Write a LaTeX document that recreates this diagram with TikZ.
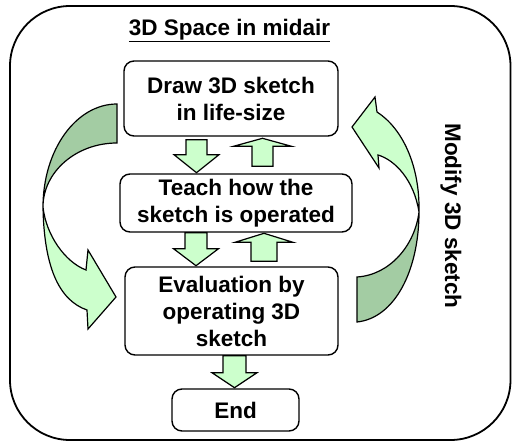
\documentclass[tikz,border=0pt]{standalone}
\usepackage{fontspec}
\setmainfont{Liberation Sans}
\usepackage{tikz}
\usetikzlibrary{calc}
\definecolor{frontgreen}{HTML}{CCFFCC}
\definecolor{backgreen}{HTML}{A3CCA3}
\tikzset{
  stepbox/.style={draw, rounded corners=10pt, line width=1.4pt, align=center,
    inner sep=0pt, font=\fontsize{22.5}{27}\selectfont\bfseries},
  blk/.style={draw, fill=frontgreen, line width=1.2pt, line join=miter},
  pics/blkarrow/.style args={#1/#2/#3/#4}{code={
    \draw[blk] (-#1,0) -- (#1,0) -- (#1,#3) -- (#2,#3) -- (0,#4) -- (-#2,#3) -- (-#1,#3) -- cycle;
  }}
}

\begin{document}
\begin{tikzpicture}[x=1pt,y=-1pt]
            \useasboundingbox (0,0) rectangle (512,442);
            \draw[line width=1.8pt, rounded corners=60pt] (10,6) rectangle (510.5,440);

            \node[anchor=base, font=\fontsize{22.5}{27}\selectfont\bfseries] (title) at (229.5,35) {\underline{3D Space in midair}};
            \node[rotate=-90, font=\fontsize{22.5}{27}\selectfont\bfseries] (modify) at (451,216) {Modify 3D sketch};

            \node[stepbox, minimum width=214pt, minimum height=75pt] (sketch) at (231,98.5) {Draw 3D sketch\\in life-size};
            \node[stepbox, minimum width=232pt, minimum height=58pt] (teach) at (236,203) {Teach how the\\sketch is operated};
            \node[stepbox, minimum width=213pt, minimum height=88pt] (evaluate) at (231.5,311) {Evaluation by\\operating 3D\\sketch};
            \node[stepbox, minimum width=127pt, minimum height=42pt] (finish) at (235.5,410) {End};

            % small block arrows
            \pic at ($(sketch.south)+(-34.5,3)$) {blkarrow=10.5/22.5/15/33};
            \pic at ($(teach.north)+(26.5,-7)$) {blkarrow=10.5/29/-20/-28};
            \pic at ($(teach.south)+(-40,0)$) {blkarrow=11/22.5/16/33};
            \pic at ($(evaluate.north)+(32.5,-5)$) {blkarrow=13/29/-19/-28};
            \pic at ($(evaluate.south)+(3,0)$) {blkarrow=11.5/22.5/17/32};

            % curved arrows
            \draw[blk, fill=backgreen] (117,104) -- (117,143) .. controls (76,143) and (43,172) .. (43,207) .. controls (43,150) and (76,104) .. (117,104) -- cycle;
            \draw[blk] (43,207) .. controls (46,235) and (65,262) .. (86,270) -- (88,250) -- (116,297) -- (88,329) -- (87,310) .. controls (58,300) and (44,265) .. (43,207) -- cycle;

            \draw[blk, fill=backgreen] (357,322) .. controls (395,318) and (419,270) .. (419,212) .. controls (415,245) and (390,275) .. (357,277) -- cycle;
            \draw[blk] (419,212) .. controls (420,165) and (402,128) .. (377,112) -- (375,97) -- (352,127) -- (379,168) -- (378,155) .. controls (395,160) and (414,180) .. (419,212) -- cycle;
        \end{tikzpicture}
\end{document}
